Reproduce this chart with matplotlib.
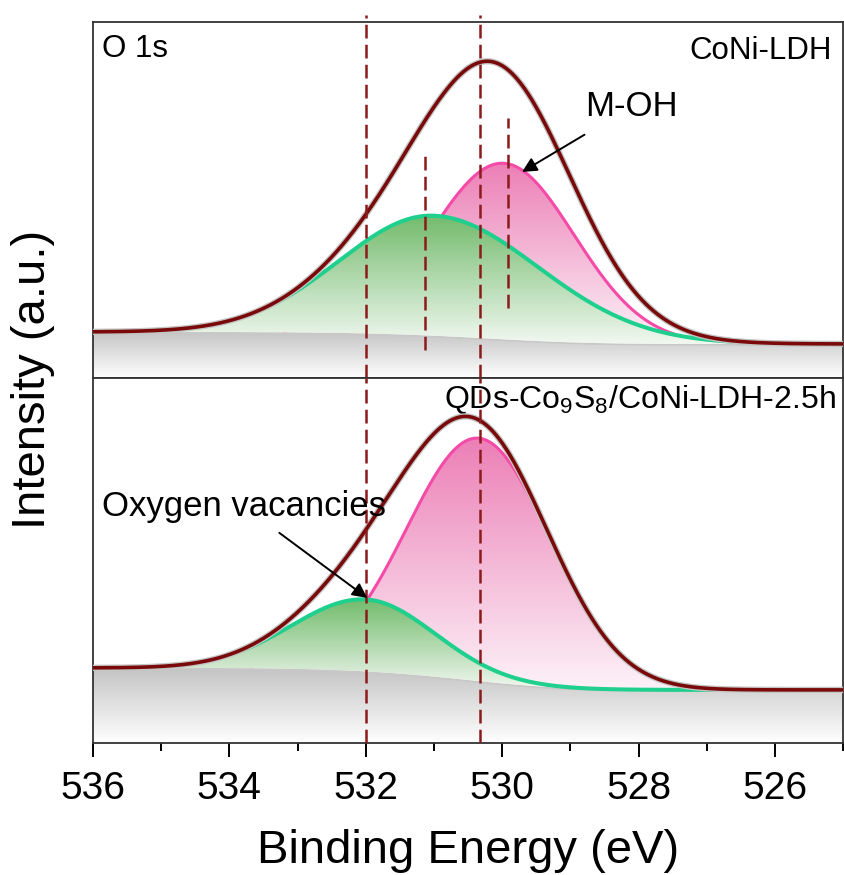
import numpy as np
import matplotlib
matplotlib.use("Agg")
import matplotlib.pyplot as plt
from matplotlib.colors import LinearSegmentedColormap
from matplotlib.ticker import MultipleLocator

plt.rcParams['font.family'] = ['Liberation Sans', 'DejaVu Sans']
plt.rcParams['mathtext.fontset'] = 'custom'
plt.rcParams['mathtext.rm'] = 'Liberation Sans'

# binding energy grid (eV)
be = np.linspace(536, 525, 1101)

# fitted O 1s components: [M-OH, oxygen vacancies]
labels = ["M-OH", "O-vac"]
top_centers = [529.98, 531.0]
top_heights = [176, 120]
top_sig_hi = [1.04, 1.38]   # width on the high-BE side
top_sig_lo = [1.04, 1.55]   # width on the low-BE side
top_bg = [46, 34]           # background at 536 eV and at 525 eV

bot_centers = [530.34, 532.0]
bot_heights = [243, 72]
bot_sig_hi = [1.05, 1.08]
bot_sig_lo = [1.05, 1.0]
bot_bg = [75, 53]

top_ylim = 356
bot_ylim = 365

peak_lines = [532.0, 530.32]   # dashed guides through both panels
top_marks = [531.13, 529.92]   # short guides at the CoNi-LDH component positions
top_mark_span = [(28, 228), (70, 260)]

pink_line = "#f54aa8"
green_line = "#1fcf8d"
env_color = "#7a0a0a"
dash_color = "#8b1a1a"


def peak(x, c, h, s_hi, s_lo):
    s = np.where(x > c, s_hi, s_lo)
    return h * np.exp(-(x - c) ** 2 / (2 * s ** 2))


def shirley(comps, lo_hi):
    total = np.sum(comps, axis=0)
    # cumulative area from low BE side (right) to high BE side (left)
    cum = np.cumsum(total[::-1])[::-1]
    frac = cum / cum[0]
    high, low = lo_hi
    return low + (high - low) * frac


def grad_fill(ax, x, ylow, yhigh, c_top, c_bot, ytop, ybot, z):
    poly = ax.fill_between(x, ylow, yhigh, facecolor="none", edgecolor="none", zorder=z)
    cmap = LinearSegmentedColormap.from_list("g", [c_bot, c_top])
    grad = np.linspace(0, 1, 256).reshape(-1, 1)
    im = ax.imshow(grad, extent=[x[0], x[-1], ybot, ytop], origin="lower",
                   aspect="auto", cmap=cmap, zorder=z)
    im.set_clip_path(poly.get_paths()[0], transform=ax.transData)


def draw_panel(ax, centers, heights, sig_hi, sig_lo, bg_ends, ylim):
    pink = peak(be, centers[0], heights[0], sig_hi[0], sig_lo[0])
    green = peak(be, centers[1], heights[1], sig_hi[1], sig_lo[1])
    bg = shirley([pink, green], bg_ends)
    env = bg + pink + green

    grad_fill(ax, be, np.zeros_like(be), bg, "#c4c4c4", "#ffffff",
              bg.max(), 0, 1)
    ax.plot(be, bg, color="#c8c8c8", lw=2.5, zorder=2)

    grad_fill(ax, be, bg, bg + pink, "#ec7fb6", "#fdf2f8",
              (bg + pink).max(), bg.min(), 3)
    pink_top = np.where(pink > 1.5, bg + pink, np.nan)
    ax.plot(be, pink_top, color=pink_line, lw=2.2, zorder=4)

    grad_fill(ax, be, bg, bg + green, "#72bb6c", "#f2f8f1",
              (bg + green).max(), bg.min(), 5)
    ax.plot(be, bg + green, color=green_line, lw=2.9, zorder=6)

    ax.plot(be, env, color="#c4c4c4", lw=4.5, zorder=7)
    ax.plot(be, env, color=env_color, lw=2.6, zorder=8)

    ax.set_xlim(536, 525)
    ax.set_ylim(0, ylim)
    ax.set_yticks([])


fig = plt.figure(figsize=(8.45, 8.75), dpi=100)
ax1 = fig.add_axes([0.110, 0.568, 0.888, 0.407])
ax2 = fig.add_axes([0.110, 0.151, 0.888, 0.417], sharex=ax1)

draw_panel(ax1, top_centers, top_heights, top_sig_hi, top_sig_lo, top_bg, top_ylim)
draw_panel(ax2, bot_centers, bot_heights, bot_sig_hi, bot_sig_lo, bot_bg, bot_ylim)

for xv in peak_lines:
    ax1.axvline(xv, ymin=0, ymax=1.02, color=dash_color, lw=1.8,
                dashes=(5.5, 2.5), clip_on=False, zorder=9)
    ax2.axvline(xv, color=dash_color, lw=1.8, dashes=(5.5, 2.5), zorder=9)

for xv, (y0, y1) in zip(top_marks, top_mark_span):
    ax1.plot([xv, xv], [y0, y1], color=dash_color, lw=1.8,
             dashes=(5.5, 2.5), zorder=9)

for ax in (ax1, ax2):
    for sp in ax.spines.values():
        sp.set_color("#333333")
        sp.set_linewidth(1.3)
    ax.xaxis.set_major_locator(MultipleLocator(2))
    ax.xaxis.set_minor_locator(MultipleLocator(1))

ax1.tick_params(axis="x", which="both", bottom=False, labelbottom=False)
ax2.tick_params(axis="x", which="major", direction="out", length=10,
                width=1.4, labelsize=28, pad=10)
ax2.tick_params(axis="x", which="minor", direction="out", length=5.5, width=1.4)

ax1.text(0.012, 0.965, "O 1s", transform=ax1.transAxes, fontsize=22.5,
         ha="left", va="top")
ax1.text(0.985, 0.96, "CoNi-LDH", transform=ax1.transAxes, fontsize=22.5,
         ha="right", va="top")
ax2.text(0.99, 0.985, "QDs-Co$_9$S$_8$/CoNi-LDH-2.5h", transform=ax2.transAxes,
         fontsize=23, ha="right", va="top")

ax1.annotate("M-OH", xy=(529.71, 206), xytext=(528.11, 271), fontsize=25,
             ha="center", va="center", zorder=10,
             arrowprops=dict(arrowstyle="-|>", color="black", lw=1.4,
                             mutation_scale=22, shrinkA=12, shrinkB=0))
ax2.annotate("Oxygen vacancies", xy=(531.98, 145), xytext=(533.78, 236),
             fontsize=25, ha="center", va="center", zorder=10,
             arrowprops=dict(arrowstyle="-|>", color="black", lw=1.4,
                             mutation_scale=22, shrinkA=8, shrinkB=0))

ax2.set_xlabel("Binding Energy (eV)", fontsize=34, labelpad=16)
fig.text(0.039, 0.566, "Intensity (a.u.)", rotation=90, fontsize=34,
         ha="center", va="center")

fig.savefig("out.png", dpi=100)
